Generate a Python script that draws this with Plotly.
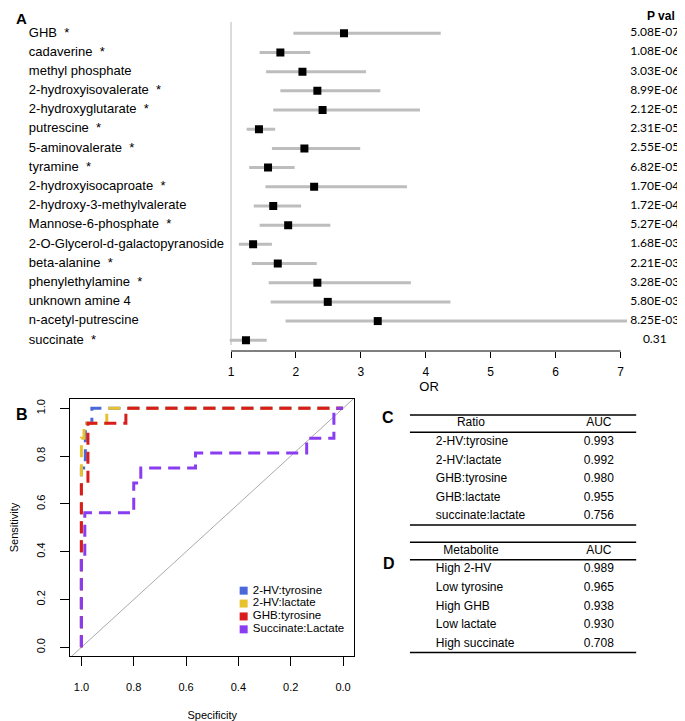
import plotly.graph_objects as go

# ---- panel A data: odds ratios with confidence intervals
metabolites = ['GHB', 'cadaverine', 'methyl phosphate', '2-hydroxyisovalerate',
               '2-hydroxyglutarate', 'putrescine', '5-aminovalerate', 'tyramine',
               '2-hydroxyisocaproate', '2-hydroxy-3-methylvalerate', 'Mannose-6-phosphate',
               '2-O-Glycerol-d-galactopyranoside', 'beta-alanine', 'phenylethylamine',
               'unknown amine 4', 'n-acetyl-putrescine', 'succinate']
significant = [True, True, False, True, True, True, True, True, True, False, True,
               False, True, True, False, False, True]
or_point = [2.74, 1.76, 2.10, 2.33, 2.41, 1.43, 2.13, 1.57, 2.28, 1.65, 1.88,
            1.34, 1.72, 2.33, 2.49, 3.26, 1.23]
or_low = [1.96, 1.44, 1.54, 1.76, 1.65, 1.24, 1.63, 1.28, 1.53, 1.35, 1.44,
          1.12, 1.32, 1.58, 1.61, 1.84, 0.98]
or_high = [4.23, 2.22, 3.08, 3.30, 3.91, 1.68, 2.99, 1.98, 3.71, 2.08, 2.53,
           1.63, 2.32, 3.77, 4.38, 7.10, 1.55]
p_values = ['5.08E-07', '1.08E-06', '3.03E-06', '8.99E-06', '2.12E-05', '2.31E-05',
            '2.55E-05', '6.82E-05', '1.70E-04', '1.72E-04', '5.27E-04', '1.68E-03',
            '2.21E-03', '3.28E-03', '5.80E-03', '8.25E-03', '0.31']
or_ticks = [1, 2, 3, 4, 5, 6, 7]

# ---- panel B data: ROC curves (specificity, sensitivity step corners)
roc_names = ['2-HV:tyrosine', '2-HV:lactate', 'GHB:tyrosine', 'Succinate:Lactate']
roc_colors = ['#4a68d8', '#e8c12e', '#d91c1c', '#8a3cf0']
roc_spec = [
    [1.0, 0.985, 0.96, 0.0],
    [1.0, 0.99, 0.903, 0.0],
    [1.0, 0.975, 0.83, 0.0],
    [1.0, 0.987, 0.80, 0.773, 0.564, 0.139, 0.035, 0.0],
]
roc_sens = [
    [0.0, 0.75, 0.9375, 1.0],
    [0.0, 0.875, 0.9375, 1.0],
    [0.0, 0.6875, 0.9375, 1.0],
    [0.0, 0.375, 0.5625, 0.6875, 0.75, 0.8125, 0.875, 1.0],
]
roc_ticks = [1.0, 0.8, 0.6, 0.4, 0.2, 0.0]

# ---- panels C and D data
ratio_names = ['2-HV:tyrosine', '2-HV:lactate', 'GHB:tyrosine', 'GHB:lactate', 'succinate:lactate']
ratio_auc = ['0.993', '0.992', '0.980', '0.955', '0.756']
metab_names = ['High 2-HV', 'Low tyrosine', 'High GHB', 'Low lactate', 'High succinate']
metab_auc = ['0.989', '0.965', '0.938', '0.930', '0.708']

# the page body has an 8px margin, so the figure is a bit smaller and shifted
OX, OY = 8, 8
W, H = 677, 713
FONT = 'Liberation Sans, Arial, sans-serif'


def px_x(a, b):
    return [(a - OX) / W, (b - OX) / W]


def px_y(top, bottom):
    return [1 - (bottom - OY) / H, 1 - (top - OY) / H]


def pp_x(a):
    return (a - OX) / W


def pp_y(a):
    return 1 - (a - OY) / H


rows = list(range(len(metabolites)))
fig = go.Figure()

# forest plot
fig.add_trace(go.Scatter(
    x=or_point, y=rows, mode='markers',
    marker=dict(symbol='square', size=8, color='black'),
    error_x=dict(type='data', symmetric=False,
                 array=[h - p for h, p in zip(or_high, or_point)],
                 arrayminus=[p - l for p, l in zip(or_point, or_low)],
                 color='#bdbdbd', thickness=3, width=0),
    showlegend=False, hoverinfo='skip',
))
# metabolite labels
fig.add_trace(go.Scatter(
    x=[0] * len(metabolites), y=rows, xaxis='x2', yaxis='y', mode='text',
    text=[m + ('\u00a0\u00a0*' if s else '') for m, s in zip(metabolites, significant)],
    textposition='middle right', textfont=dict(size=13, color='black', family=FONT),
    showlegend=False, hoverinfo='skip', cliponaxis=False,
))
# p values
fig.add_trace(go.Scatter(
    x=[0.5] * len(p_values), y=rows, xaxis='x3', yaxis='y', mode='text',
    text=p_values, textposition='middle center',
    textfont=dict(size=12, color='black', family='Lato, sans-serif'),
    showlegend=False, hoverinfo='skip', cliponaxis=False,
))

# ROC curves
for name, col, sx, sy in zip(roc_names, roc_colors, roc_spec, roc_sens):
    fig.add_trace(go.Scatter(
        x=sx, y=sy, xaxis='x4', yaxis='y4', mode='lines', line_shape='vh',
        line=dict(color=col, width=3, dash='12px,7px'),
        showlegend=False, hoverinfo='skip',
    ))
# legend for ROC
fig.add_trace(go.Scatter(
    x=[0.05] * len(roc_names), y=list(range(len(roc_names))), xaxis='x5', yaxis='y5',
    mode='markers+text', text=['\u00a0' + n for n in roc_names], textposition='middle right',
    textfont=dict(size=11.5, color='black', family=FONT),
    marker=dict(symbol='square', size=8, color=roc_colors),
    showlegend=False, hoverinfo='skip', cliponaxis=False,
))

# tables C and D
for xa, ya, head, names, aucs in [('x6', 'y6', 'Ratio', ratio_names, ratio_auc),
                                  ('x7', 'y7', 'Metabolite', metab_names, metab_auc)]:
    fig.add_trace(go.Scatter(
        x=[0.27, 0.834], y=[0, 0], xaxis=xa, yaxis=ya, mode='text',
        text=[head, 'AUC'], textposition='middle center',
        textfont=dict(size=12, color='black', family=FONT),
        showlegend=False, hoverinfo='skip', cliponaxis=False,
    ))
    fig.add_trace(go.Scatter(
        x=[0.115] * len(names), y=list(range(1, len(names) + 1)), xaxis=xa, yaxis=ya,
        mode='text', text=names, textposition='middle right',
        textfont=dict(size=12, color='black', family=FONT),
        showlegend=False, hoverinfo='skip', cliponaxis=False,
    ))
    fig.add_trace(go.Scatter(
        x=[0.834] * len(aucs), y=list(range(1, len(aucs) + 1)), xaxis=xa, yaxis=ya,
        mode='text', text=aucs, textposition='middle center',
        textfont=dict(size=12, color='black', family=FONT),
        showlegend=False, hoverinfo='skip', cliponaxis=False,
    ))
    for yy in [-0.45, 0.48, 5.47]:
        fig.add_shape(type='line', xref=xa, yref=ya, x0=0, x1=1, y0=yy, y1=yy,
                      line=dict(color='black', width=1.5))

hidden = dict(visible=False, fixedrange=True)
roc_x_range = [1.0417, -0.0417]
roc_y_range = [-0.0364, 1.0389]

fig.update_layout(
    width=W, height=H, template='plotly_white',
    margin=dict(l=0, r=0, t=0, b=0),
    paper_bgcolor='white', plot_bgcolor='white',
    font=dict(family=FONT, color='black', size=12),
    xaxis=dict(domain=px_x(223.7, 629.8), range=[0.95, 7.15], showgrid=False, zeroline=False,
               showline=False, ticks='outside', ticklen=6, tickcolor='black',
               tickvals=or_ticks, tickfont=dict(size=12), ticklabelstandoff=4,
               title=dict(text='OR', font=dict(size=13), standoff=0)),
    yaxis=dict(domain=px_y(21.8, 351), range=[16.56, -0.6], **hidden),
    xaxis2=dict(domain=px_x(23, 225), range=[0, 1], anchor='y', **hidden),
    xaxis3=dict(domain=px_x(630, 679), range=[0, 1], anchor='y', **hidden),
    xaxis4=dict(domain=px_x(65, 351), range=roc_x_range, anchor='y4', showgrid=False,
                zeroline=False, showline=True, linecolor='black', linewidth=1, mirror=True,
                ticks='outside', ticklen=9, tickcolor='black', tickvals=roc_ticks,
                ticktext=['%.1f' % t for t in roc_ticks], tickfont=dict(size=11),
                ticklabelstandoff=12,
                title=dict(text='Specificity', font=dict(size=11), standoff=20)),
    yaxis4=dict(domain=px_y(399, 656), range=roc_y_range, anchor='x4', showgrid=False,
                zeroline=False, showline=True, linecolor='black', linewidth=1, mirror=True,
                ticks='outside', ticklen=9, tickcolor='black', tickvals=roc_ticks,
                ticktext=['%.1f' % t for t in roc_ticks], tickangle=-90,
                tickfont=dict(size=11), ticklabelstandoff=11,
                title=dict(text='Sensitivity', font=dict(size=11), standoff=19)),
    xaxis5=dict(domain=px_x(234, 348), range=[0, 1], anchor='y5', **hidden),
    yaxis5=dict(domain=px_y(584.2, 635.8), range=[3.5, -0.5], anchor='x5', **hidden),
    xaxis6=dict(domain=px_x(407.3, 636), range=[0, 1], anchor='y6', **hidden),
    yaxis6=dict(domain=px_y(413.1, 526.6), range=[5.55, -0.55], anchor='x6', **hidden),
    xaxis7=dict(domain=px_x(407.3, 636), range=[0, 1], anchor='y7', **hidden),
    yaxis7=dict(domain=px_y(540.5, 654), range=[5.55, -0.55], anchor='x7', **hidden),
)

# forest axis line (R style, first to last tick) and OR = 1 reference line
fig.add_shape(type='line', xref='x', yref='paper', x0=or_ticks[0], x1=or_ticks[-1],
              y0=pp_y(351), y1=pp_y(351), line=dict(color='black', width=1))
fig.add_shape(type='line', xref='x', yref='y', x0=1, x1=1, y0=-0.6, y1=16.25,
              line=dict(color='#d0d0d0', width=1.5), layer='below')
# ROC chance diagonal across the whole plot region
fig.add_shape(type='line', xref='x4', yref='y4',
              x0=roc_x_range[0], y0=1 - roc_x_range[0], x1=roc_x_range[1], y1=1 - roc_x_range[1],
              line=dict(color='#aaaaaa', width=1), layer='below')

# panel letters and headers
for txt, x, y, size, anchor in [('A', 8, 8, 15, 'top'), ('B', 8, 415, 16, 'middle'),
                                ('C', 377, 417, 16, 'middle'), ('D', 378, 563, 16, 'middle')]:
    fig.add_annotation(text='<b>%s</b>' % txt, xref='paper', yref='paper', x=pp_x(x), y=pp_y(y),
                       xanchor='left', yanchor=anchor, showarrow=False,
                       font=dict(size=size, family=FONT, color='black'))
fig.add_annotation(text='<b>P val</b>', xref='paper', yref='paper', x=pp_x(661), y=pp_y(16),
                   xanchor='center', yanchor='middle', showarrow=False,
                   font=dict(size=12, family=FONT, color='black'))

fig.write_html('out.html')
